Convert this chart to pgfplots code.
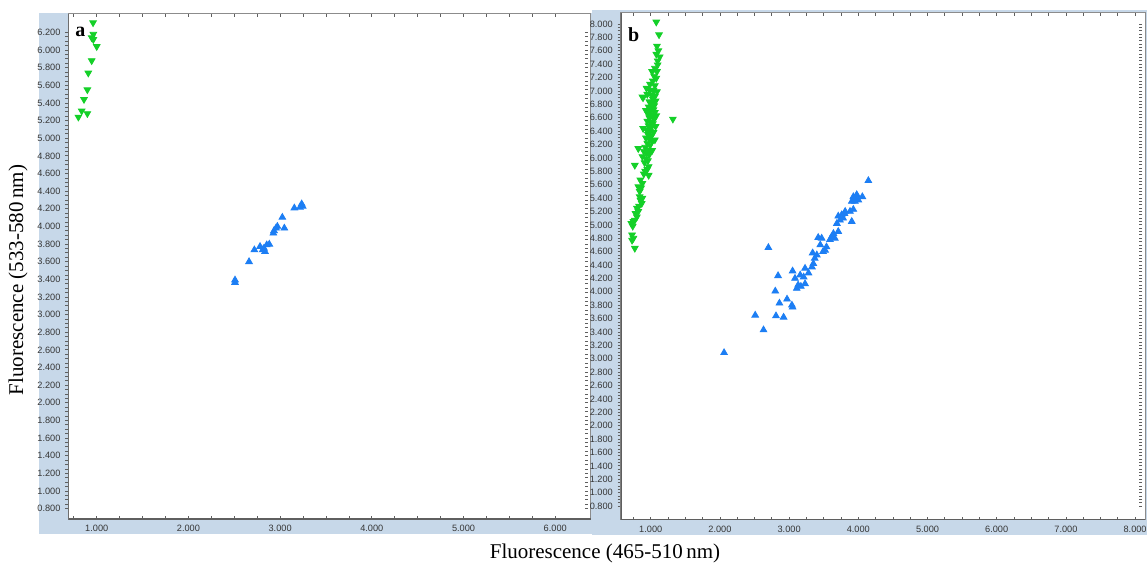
\documentclass[border=0pt]{standalone}
\usepackage{fontspec}
\setmainfont{Liberation Serif}
\newfontfamily\tickfont{Liberation Sans}
\usepackage{pgfplots}
\pgfplotsset{compat=1.18}

\definecolor{panelbg}{RGB}{199,216,233}
\definecolor{ptgreen}{RGB}{20,208,40}
\definecolor{ptblue}{RGB}{28,126,244}
\definecolor{framegray}{RGB}{140,140,140}
\definecolor{axisdark}{RGB}{95,95,95}
\definecolor{ticktext}{RGB}{55,55,55}

% green: 533-580 nm dominant population, blue: 465-510 nm dominant population
\pgfplotstableread{
x y
0.96 6.31
0.963 6.18
0.945 6.14
0.963 6.12
1.00 6.04
0.945 5.88
0.908 5.74
0.898 5.55
0.861 5.44
0.836 5.31
0.80 5.24
0.898 5.28
}\greenA

\pgfplotstableread{
x y
2.508 3.392
2.508 3.364
2.661 3.60
2.719 3.734
2.781 3.772
2.810 3.734
2.835 3.715
2.824 3.753
2.854 3.791
2.882 3.798
2.926 3.924
2.933 3.951
2.955 3.981
2.970 4.000
3.024 4.103
3.046 3.981
3.155 4.209
3.217 4.217
3.235 4.255
3.246 4.229
}\blueA

\pgfplotstableread{
x y
1.08 8.03
1.12 7.84
1.09 7.67
1.11 7.60
1.08 7.55
1.13 7.51
1.10 7.45
1.10 7.39
1.06 7.34
1.09 7.29
1.02 7.29
1.05 7.22
1.08 7.19
1.03 7.15
0.99 7.10
1.06 7.08
0.94 7.04
0.99 7.01
1.04 7.01
1.09 6.99
0.89 6.90
0.95 6.95
1.01 6.94
1.06 6.92
0.88 6.91
1.03 6.88
1.07 6.85
0.98 6.84
1.02 6.81
1.05 6.78
0.97 6.76
1.00 6.74
1.04 6.72
0.93 6.71
0.99 6.70
1.06 6.68
0.96 6.66
1.01 6.64
1.08 6.63
1.03 6.61
0.98 6.60
1.05 6.58
1.32 6.58
0.95 6.55
1.00 6.53
1.03 6.51
0.97 6.48
1.07 6.47
1.01 6.46
0.89 6.44
0.94 6.42
0.99 6.40
1.04 6.38
0.96 6.35
1.01 6.33
0.93 6.30
0.98 6.28
1.06 6.27
1.02 6.25
0.95 6.22
0.99 6.19
0.92 6.16
0.82 6.14
0.96 6.12
1.02 6.11
0.90 6.10
0.94 6.07
0.98 6.05
0.88 6.02
0.93 5.99
0.96 5.96
0.91 5.93
0.77 5.89
0.97 5.87
0.95 5.83
0.92 5.80
0.90 5.76
0.97 5.74
0.85 5.67
0.88 5.62
0.82 5.57
0.86 5.55
0.84 5.50
0.84 5.42
0.88 5.40
0.85 5.37
0.87 5.32
0.83 5.28
0.80 5.25
0.82 5.20
0.78 5.17
0.80 5.12
0.77 5.07
0.75 5.05
0.72 5.02
0.74 4.98
0.73 4.85
0.75 4.80
0.73 4.77
0.77 4.65
}\greenB

\pgfplotstableread{
x y
4.145 5.66
3.928 5.42
3.977 5.45
4.000 5.37
4.058 5.42
3.905 5.35
3.952 5.35
3.960 5.39
3.928 5.23
3.880 5.20
3.810 5.20
3.760 5.15
3.710 5.13
3.780 5.10
3.735 5.07
3.905 5.05
3.690 5.02
3.800 5.17
3.710 4.90
3.640 4.87
3.615 4.82
3.660 4.80
3.590 4.78
3.420 4.81
3.470 4.80
3.450 4.70
3.540 4.67
3.520 4.62
3.490 4.60
3.340 4.58
3.400 4.55
3.370 4.50
3.350 4.42
3.330 4.37
3.230 4.35
3.280 4.28
3.050 4.31
3.160 4.25
3.210 4.22
3.085 4.20
3.130 4.10
3.230 4.12
3.110 4.05
3.170 4.08
2.700 4.66
2.840 4.24
2.800 4.01
2.860 3.83
2.970 3.89
3.040 3.80
3.050 3.77
2.510 3.65
2.810 3.64
2.920 3.62
2.630 3.43
2.060 3.09
}\blueB

\pgfplotsset{
  flowpanel/.style={
    scale only axis,
    anchor=south west,
    axis background/.style={fill=white},
    axis line style={framegray, line width=0.5pt},
    tick align=inside,
    major tick length=1.5pt,
    minor tick length=1.5pt,
    tick style={axisdark, line width=0.4pt},
    y tick style={xshift=-1.5pt},
    xtick distance=1,
    minor x tick num=3,
    minor y tick num=3,
    tick label style={font=\tickfont\fontsize{4.6}{5.2}\selectfont, text=ticktext,
      /pgf/number format/fixed,
      /pgf/number format/fixed zerofill,
      /pgf/number format/precision=3,
      /pgf/number format/assume math mode=true},
    xticklabel style={yshift=0.4pt},
    yticklabel style={xshift=-0.4pt},
  },
  greenpts/.style={only marks, mark=triangle*, mark size=1.9pt,
    mark options={rotate=180, fill=ptgreen, draw=ptgreen}},
  bluepts/.style={only marks, mark=triangle*, mark size=1.9pt,
    mark options={fill=ptblue, draw=ptblue}},
}

\begin{document}
\begin{tikzpicture}
\useasboundingbox (0,0) rectangle (573.5pt,283pt);
% panel backgrounds
\fill[panelbg] (19.65pt,16pt) rectangle (296pt,276.5pt);
\fill[panelbg] (296pt,15.5pt) rectangle (573.5pt,278pt);

% panel a
\begin{axis}[flowpanel, at={(34.15pt,23.35pt)}, width=261.35pt, height=252.65pt,
  xmin=0.69, xmax=6.39, ymin=0.679, ymax=6.409,
  ytick={0.8,1.0,1.2,1.4,1.6,1.8,2.0,2.2,2.4,2.6,2.8,3.0,3.2,3.4,3.6,3.8,
         4.0,4.2,4.4,4.6,4.8,5.0,5.2,5.4,5.6,5.8,6.0,6.2}]
  \addplot[greenpts] table {\greenA};
  \addplot[bluepts] table {\blueA};
  \draw[axisdark, line width=0.9pt] (rel axis cs:0,1) -- (rel axis cs:0,0) -- (rel axis cs:1,0);
\end{axis}

% panel b
\begin{axis}[flowpanel, at={(310.35pt,23pt)}, width=262.15pt, height=253.65pt,
  xmin=0.566, xmax=8.143, ymin=0.591, ymax=8.169,
  ytick={0.8,1.0,1.2,1.4,1.6,1.8,2.0,2.2,2.4,2.6,2.8,3.0,3.2,3.4,3.6,3.8,
         4.0,4.2,4.4,4.6,4.8,5.0,5.2,5.4,5.6,5.8,6.0,6.2,6.4,6.6,6.8,7.0,
         7.2,7.4,7.6,7.8,8.0}]
  \addplot[greenpts] table {\greenB};
  \addplot[bluepts] table {\blueB};
  \draw[axisdark, line width=0.9pt] (rel axis cs:0,1) -- (rel axis cs:0,0) -- (rel axis cs:1,0);
\end{axis}

\node[anchor=base west, inner sep=0pt, font=\bfseries\fontsize{10}{12}\selectfont] at (37.5pt,264.7pt) {a};
\node[anchor=base west, inner sep=0pt, font=\bfseries\fontsize{10}{12}\selectfont] at (313.9pt,262.2pt) {b};

\node[font=\fontsize{10.5}{12}\selectfont] at (302.5pt,6.5pt) {Fluorescence (465-510\,nm)};
\node[rotate=90, font=\fontsize{10.5}{12}\selectfont] at (9pt,143pt) {Fluorescence (533-580\,nm)};
\end{tikzpicture}
\end{document}
